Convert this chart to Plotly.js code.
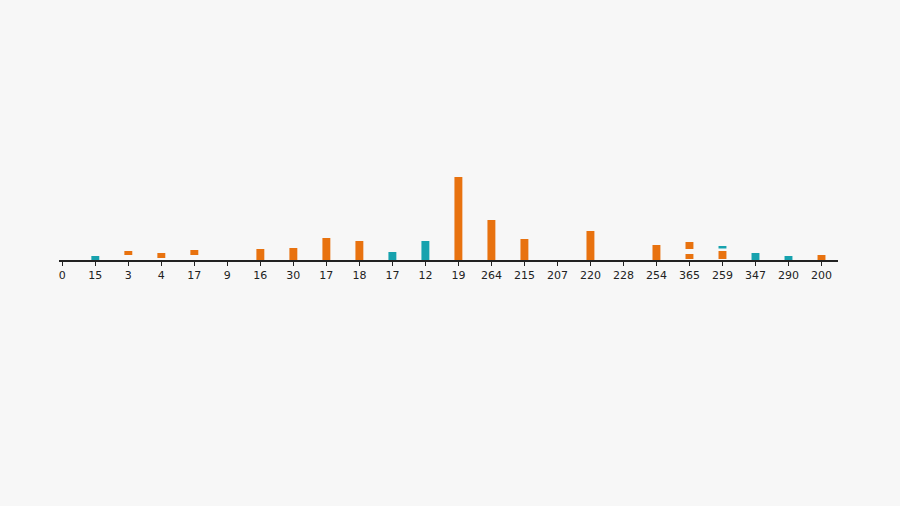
<!DOCTYPE html>
<html>
<head>
<meta charset="utf-8">
<script src="https://cdn.plot.ly/plotly-3.0.1.min.js"></script>
<style>
html,body{margin:0;padding:0;background:#f7f7f7;}
#chart{width:900px;height:506px;}
</style>
</head>
<body>
<div id="chart"></div>
<script>
// Category tick labels (some repeat, so positions are indices)
const labels = ["0","15","3","4","17","9","16","30","17","18","17","12","19","264","215","207","220","228","254","365","259","347","290","200"];

// Orange series: floating bars given as low / high values
const orangeLow  = [null,null,5,2,5,null,0,0,0,0,null,null,0,0,0,null,0,null,0,1,1,null,null,0];
const orangeHigh = [null,null,9,7,10,null,11,12,22,19,null,null,83,40,21,null,29,null,15,6,9,null,null,5];

// Orange upper segment (split bar)
const orange2Low  = [null,null,null,null,null,null,null,null,null,null,null,null,null,null,null,null,null,null,null,11,null,null,null,null];
const orange2High = [null,null,null,null,null,null,null,null,null,null,null,null,null,null,null,null,null,null,null,18,null,null,null,null];

// Teal series
const tealLow  = [null,0,null,null,null,null,null,null,null,null,0,0,null,null,null,null,null,null,null,null,11.5,0,0,null];
const tealHigh = [null,4,null,null,null,null,null,null,null,null,8,19,null,null,null,null,null,null,null,null,14,7,4,null];

const idx = labels.map((_, i) => i);
function mk(low, high, color) {
  return {
    type: 'bar',
    x: idx,
    y: high.map((h, i) => (h == null ? null : h - low[i])),
    base: low.map(v => (v == null ? 0 : v)),
    width: 0.24,
    marker: {color: color, line: {width: 0}},
    hoverinfo: 'skip',
    showlegend: false
  };
}

const ORANGE = '#E8720F';
const TEAL = '#17A2AE';
const data = [
  mk(orangeLow, orangeHigh, ORANGE),
  mk(orange2Low, orange2High, ORANGE),
  mk(tealLow, tealHigh, TEAL)
];

const layout = {
  width: 900, height: 506,
  paper_bgcolor: '#f7f7f7',
  plot_bgcolor: '#f7f7f7',
  margin: {l: 59, r: 62, t: 100, b: 246},
  barmode: 'overlay',
  showlegend: false,
  xaxis: {
    range: [-0.1, 23.5],
    tickmode: 'array',
    tickvals: idx,
    ticktext: labels,
    showgrid: false,
    zeroline: false,
    showline: true,
    linecolor: '#222',
    linewidth: 1.5,
    ticks: 'outside',
    ticklen: 4,
    tickwidth: 1,
    tickcolor: '#222',
    tickfont: {family: 'DejaVu Sans, sans-serif', size: 11, color: '#222'}
  },
  yaxis: {
    range: [0, 160],
    visible: false,
    showgrid: false,
    zeroline: false
  }
};

Plotly.newPlot('chart', data, layout, {displayModeBar: false, staticPlot: true});
</script>
</body>
</html>
